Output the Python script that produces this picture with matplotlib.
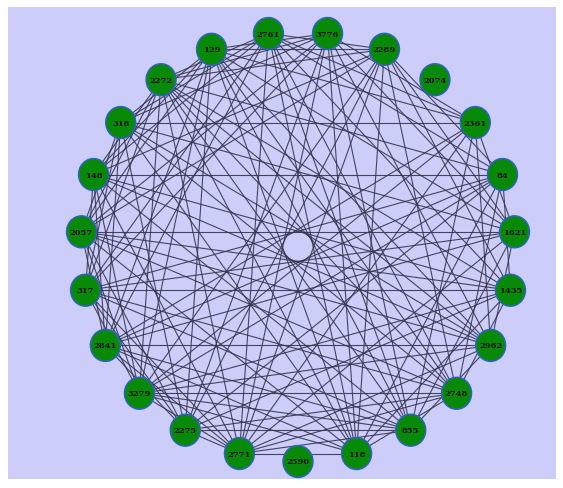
import numpy as np
import matplotlib.pyplot as plt
from matplotlib.collections import LineCollection
from matplotlib.patches import Ellipse, Rectangle

# nodes in ring order, starting at the bottom and going counter-clockwise
nodes = ['2590', '118', '855', '2748', '2962', '1435', '1621', '84',
         '2361', '2074', '2289', '3776', '2761', '129', '2272', '318',
         '148', '2057', '317', '2841', '3279', '2275', '2771']

# edges (2590 and 2074 have none)
edges = [
    ('118', '2748'), ('118', '1435'), ('118', '84'), ('118', '2289'),
    ('118', '3776'), ('118', '2761'), ('118', '129'), ('118', '2272'),
    ('118', '318'), ('118', '2057'), ('118', '2841'), ('118', '3279'),
    ('118', '2771'),
    ('855', '2962'), ('855', '1621'), ('855', '2361'), ('855', '3776'),
    ('855', '2761'), ('855', '129'), ('855', '2272'), ('855', '148'),
    ('855', '317'), ('855', '2841'), ('855', '3279'), ('855', '2275'),
    ('855', '2771'),
    ('2748', '1435'), ('2748', '84'), ('2748', '2289'), ('2748', '2761'),
    ('2748', '129'), ('2748', '2272'), ('2748', '318'), ('2748', '2057'),
    ('2748', '317'), ('2748', '3279'), ('2748', '2275'), ('2748', '2771'),
    ('2962', '1621'), ('2962', '2361'), ('2962', '3776'), ('2962', '129'),
    ('2962', '2272'), ('2962', '318'), ('2962', '148'), ('2962', '2057'),
    ('2962', '2841'), ('2962', '3279'), ('2962', '2771'),
    ('1435', '84'), ('1435', '2289'), ('1435', '2761'), ('1435', '2272'),
    ('1435', '148'), ('1435', '2057'), ('1435', '317'), ('1435', '3279'),
    ('1435', '2275'),
    ('1621', '2361'), ('1621', '2289'), ('1621', '3776'), ('1621', '129'),
    ('1621', '318'), ('1621', '2057'), ('1621', '317'), ('1621', '2841'),
    ('1621', '2771'),
    ('84', '2289'), ('84', '2761'), ('84', '2272'), ('84', '148'),
    ('84', '317'), ('84', '2841'), ('84', '3279'), ('84', '2275'),
    ('2361', '3776'), ('2361', '2761'), ('2361', '129'), ('2361', '318'),
    ('2361', '2841'), ('2361', '3279'), ('2361', '2771'),
    ('2289', '2761'), ('2289', '129'), ('2289', '2272'), ('2289', '148'),
    ('2289', '2057'), ('2289', '3279'), ('2289', '2275'), ('2289', '2771'),
    ('3776', '129'), ('3776', '2272'), ('3776', '318'), ('3776', '2057'),
    ('3776', '317'), ('3776', '2275'), ('3776', '2771'),
    ('2761', '2272'), ('2761', '318'), ('2761', '148'), ('2761', '317'),
    ('2761', '2841'), ('2761', '2771'),
    ('129', '318'), ('129', '148'), ('129', '2057'), ('129', '2841'),
    ('129', '3279'), ('129', '2275'),
    ('2272', '148'), ('2272', '2057'), ('2272', '317'), ('2272', '3279'),
    ('2272', '2771'),
    ('318', '2057'), ('318', '317'), ('318', '2841'), ('318', '2275'),
    ('148', '317'), ('148', '2841'), ('148', '3279'), ('148', '2771'),
    ('2057', '2841'), ('2057', '3279'), ('2057', '2275'),
    ('317', '3279'), ('317', '2275'), ('317', '2771'),
    ('2841', '2275'), ('2841', '2771'),
    ('3279', '2771'),
    ('2275', '2771'),
]

# circular layout in pixel units
cx, cy = 298, 247.5
rx, ry = 217, 215
n = len(nodes)
ang = -np.pi / 2 + 2 * np.pi * np.arange(n) / n
pos = {name: (cx + rx * np.cos(a), cy - ry * np.sin(a)) for name, a in zip(nodes, ang)}

fig = plt.figure(figsize=(5.63, 4.89), dpi=100, facecolor='white')
ax = fig.add_axes([0, 0, 1, 1])
ax.set_xlim(0, 563)
ax.set_ylim(489, 0)
ax.axis('off')

# lavender canvas
ax.add_patch(Rectangle((8, 8), 548, 472, facecolor='#cccdf9', edgecolor='none', zorder=0))

segs = [[pos[a], pos[b]] for a, b in edges]
lc = LineCollection(segs, colors='#35354f', linewidths=0.8, alpha=0.9, zorder=1)
ax.add_collection(lc)

for name in nodes:
    x, y = pos[name]
    ax.add_patch(Ellipse((x, y), 30, 32, facecolor='#088a08', edgecolor='#2f5fd0',
                         linewidth=1.0, zorder=2))
    ax.text(x, y, name, ha='center', va='center', fontsize=6, fontweight='bold',
            family='DejaVu Serif', color='#101010', zorder=3)

fig.savefig('out.png', dpi=100)
